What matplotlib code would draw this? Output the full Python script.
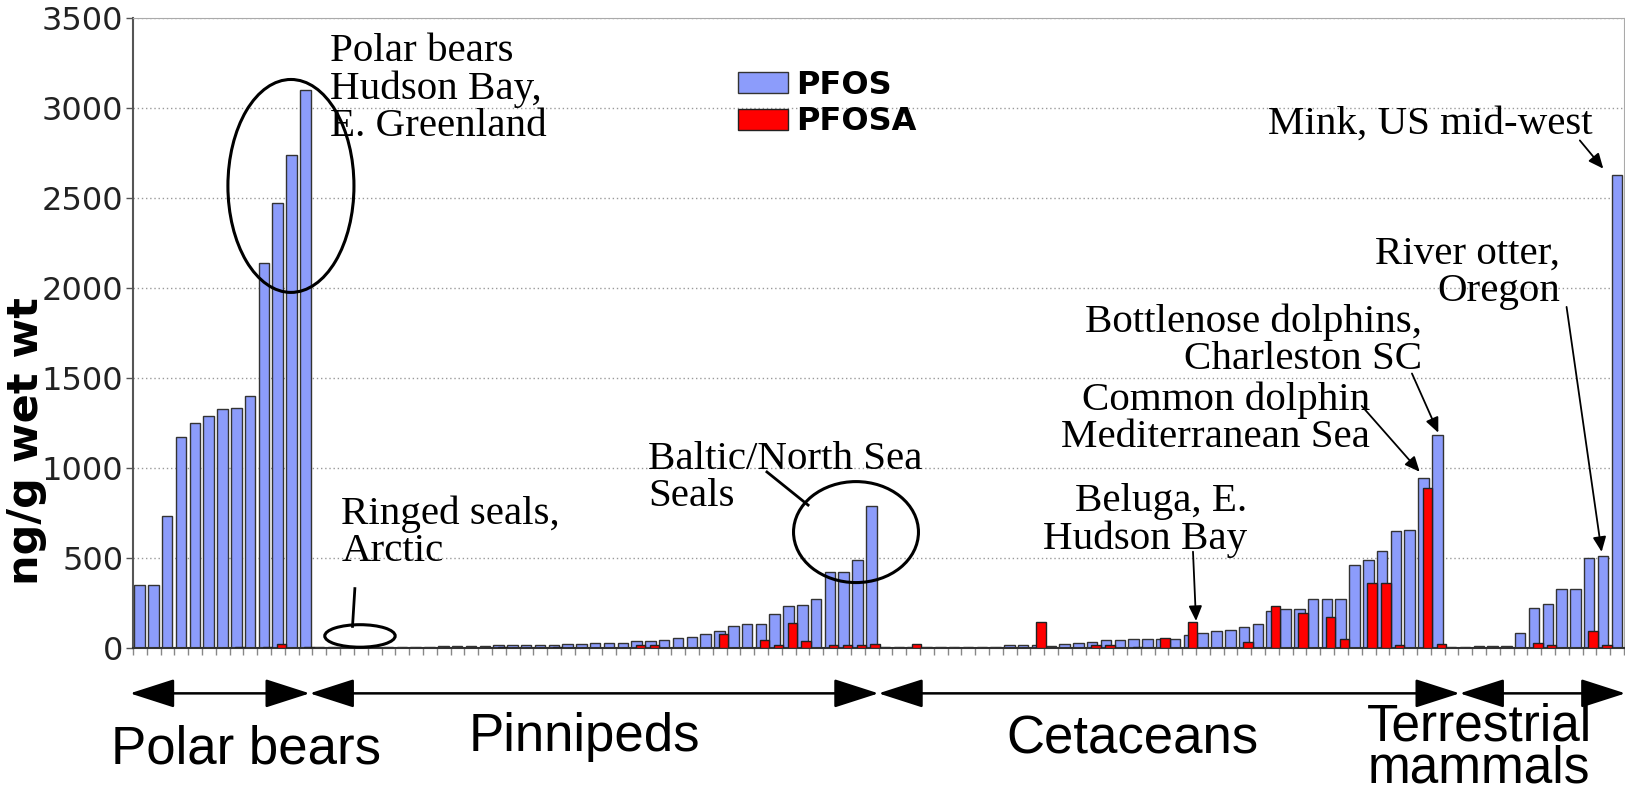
import numpy as np
import matplotlib.pyplot as plt
from matplotlib.patches import Ellipse

# PFOS / PFOSA in liver, ng/g wet wt, one entry per sample group (108 groups)
pfos = [350, 350, 735, 1170, 1250, 1290, 1330, 1335, 1400, 2140, 2470, 2740, 3100,
        3, 3, 3, 3, 3, 3, 4, 4, 4,
        10, 10, 12, 12,
        19, 19, 19, 19, 19, 20, 20, 26, 26, 26, 37, 37, 45, 56, 62,
        80, 95, 123, 135, 135, 187, 233, 240, 271, 425, 425, 489, 791,
        4, 4, 5, 3, 3, 3, 3, 4, 5,
        15, 15, 15, 12, 24, 30, 31, 42, 42, 50, 50, 50, 48, 70, 83, 96, 101, 118, 135,
        203, 214, 214, 273, 273, 273, 463, 487, 541, 651, 656, 943, 1181,
        3, 8, 12, 12, 12, 83, 220, 242, 330, 330, 500, 513, 2630]

pfosa = [0, 0, 0, 0, 0, 0, 0, 3, 0, 3, 20, 0, 3,
         0, 0, 0, 0, 0, 0, 0, 0, 0, 0, 0, 0, 0,
         3, 0, 0, 0, 3, 0, 0, 0, 0, 0, 17, 17, 0, 0, 0,
         0, 80, 0, 0, 45, 18, 140, 40, 0, 15, 15, 15, 22,
         0, 0, 25, 0, 0, 0, 0, 0, 0,
         0, 0, 142, 0, 0, 0, 15, 15, 0, 3, 0, 57, 0, 142, 0, 0, 0, 31, 0,
         234, 0, 197, 0, 173, 48, 0, 362, 362, 19, 0, 889, 24,
         0, 0, 0, 0, 0, 0, 30, 18, 0, 0, 94, 18, 0]

groups = ['Polar bears', 'Pinnipeds', 'Cetaceans', 'Terrestrial\nmammals']
group_bounds = [-0.22, 12.8, 54.0, 96.1, 108.1]
yticks = [0, 500, 1000, 1500, 2000, 2500, 3000, 3500]

fig = plt.figure(figsize=(16.25, 7.96), dpi=100)
ax = fig.add_axes([133 / 1625, 148 / 796, 1491 / 1625, 630 / 796])

x = np.arange(len(pfos))
ax.bar(x + 0.48, pfos, width=0.76, color='#8c9cfb', edgecolor='#333333',
       linewidth=1.0, label='PFOS', zorder=2)
ax.bar(x + 0.76, pfosa, width=0.68, color='#ff0000', edgecolor='#222222',
       linewidth=1.0, label='PFOSA', zorder=3)

ax.set_xlim(0, len(pfos))
ax.set_ylim(0, 3500)
ax.set_yticks(yticks)
ax.set_xticks(np.arange(len(pfos) + 1))
ax.set_xticklabels([])
ax.tick_params(axis='x', direction='out', length=5, width=1, color='#888888')
ax.tick_params(axis='y', direction='out', length=5, width=1, color='#555555',
               labelsize=23, labelcolor='#222222', pad=2)
for lab in ax.get_yticklabels():
    lab.set_family('DejaVu Sans')
ax.yaxis.grid(True, linestyle=(0, (1, 2)), color='#999999', linewidth=1)
ax.set_axisbelow(True)
for side in ['top', 'right']:
    ax.spines[side].set_color('#aaaaaa')
ax.spines['left'].set_color('#555555')
ax.spines['left'].set_linewidth(1.5)
ax.spines['bottom'].set_color('#333333')
ax.spines['bottom'].set_linewidth(1.5)

ax.set_ylabel('ng/g wet wt', fontsize=31, fontweight='bold', family='DejaVu Sans')
ax.yaxis.set_label_coords(-0.0577, 0.328)

ax.legend(loc='upper left', bbox_to_anchor=(738 / 1625, 1 - 70 / 796),
          bbox_transform=fig.transFigure, frameon=False,
          prop=dict(family='DejaVu Sans', weight='bold', size=23),
          handlelength=1.56, handleheight=0.65, handletextpad=0.25,
          labelspacing=0.17, borderpad=0, borderaxespad=0)

# annotations
serif = dict(family='Liberation Serif', fontsize=29.5, linespacing=1.0, color='black')
ax.text(14.27, 3415, 'Polar bears\nHudson Bay,\nE. Greenland', ha='left', va='top', **serif)
ax.add_patch(Ellipse((11.44, 2567), 9.13, 1183, fill=False, ec='black', lw=2.2, zorder=4))

ax.text(15.1, 848, 'Ringed seals,\nArctic', ha='left', va='top', **serif)
ax.plot([16.07, 15.9], [330, 120], color='black', lw=2)
ax.add_patch(Ellipse((16.44, 67), 5.1, 125, fill=False, ec='black', lw=2.2,
                     zorder=4, clip_on=False))

ax.text(37.3, 1148, 'Baltic/North Sea\nSeals', ha='left', va='top', **serif)
ax.plot([45.92, 48.9], [978, 794], color='black', lw=2)
ax.add_patch(Ellipse((52.37, 644), 9.05, 561, fill=False, ec='black', lw=2.2, zorder=4))

ax.text(80.7, 915, 'Beluga, E.\nHudson Bay', ha='right', va='top',
        multialignment='right', **serif)
ax.text(89.6, 1482, 'Common dolphin\nMediterranean Sea', ha='right', va='top',
        multialignment='right', **serif)
ax.text(93.37, 1912, 'Bottlenose dolphins,\nCharleston SC', ha='right', va='top',
        multialignment='right', **serif)
ax.text(103.36, 2290, 'River otter,\nOregon', ha='right', va='top',
        multialignment='right', **serif)
ax.text(105.75, 3015, 'Mink, US mid-west', ha='right', va='top', **serif)

arrow = dict(arrowstyle='-|>,head_length=0.9,head_width=0.4', mutation_scale=10,
             color='black', lw=1.3, shrinkA=0, shrinkB=0)
pointers = [((76.78, 535), (77.0, 150)),
            ((89.0, 1345), (93.2, 979)),
            ((92.64, 1525), (94.55, 1196)),
            ((103.84, 1895), (106.38, 534)),
            ((104.8, 2820), (106.5, 2663))]
for start, end in pointers:
    ax.annotate('', xy=end, xytext=start, arrowprops=arrow)

# group arrows under the axis
trans = ax.get_xaxis_transform()
for a, b in zip(group_bounds[:-1], group_bounds[1:]):
    ax.annotate('', xy=(b, -0.072), xytext=(a, -0.072), xycoords=trans,
                textcoords=trans, annotation_clip=False,
                arrowprops=dict(arrowstyle='<|-|>,head_length=2.8,head_width=0.9',
                                mutation_scale=10, color='black', lw=1.8,
                                shrinkA=0, shrinkB=0))

sans = dict(family='Liberation Sans', fontsize=38, color='black', ha='center',
            va='baseline', transform=trans, clip_on=False)
ax.text(8.22, -0.184, groups[0], **sans)
ax.text(32.67, -0.164, groups[1], **sans)
ax.text(72.36, -0.167, groups[2], **sans)
ax.text(97.5, -0.2317, groups[3], family='Liberation Sans', fontsize=37,
        color='black', ha='center', va='bottom', multialignment='center',
        linespacing=0.84, transform=trans, clip_on=False)

fig.savefig('out.png', dpi=100)
